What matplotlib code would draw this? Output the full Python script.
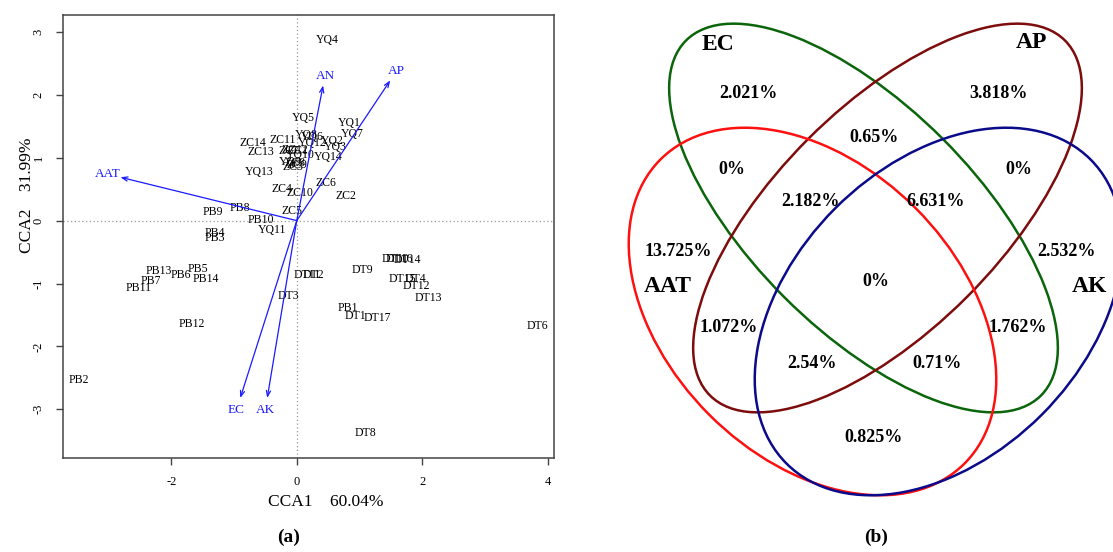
import matplotlib
matplotlib.use("Agg")
import matplotlib.pyplot as plt
from matplotlib.patches import Ellipse

plt.rcParams['font.family'] = ['Liberation Serif', 'DejaVu Serif']
plt.rcParams['axes.unicode_minus'] = False

# ---- (a) CCA biplot: site scores ----
sitios = ["YQ4", "YQ5", "YQ1", "YQ7", "YQ8", "YQ6", "ZC14", "ZC11", "YQ12", "YQ2",
          "YQ3", "ZC13", "ZC7", "ZC12", "ZC1", "YQ10", "YQ14", "YQ9", "ZC8", "ZC9",
          "ZC3", "YQ13", "ZC6", "ZC4", "ZC10", "ZC2", "ZC5", "PB8", "PB9", "PB10",
          "YQ11", "PB4", "PB3", "PB13", "PB5", "PB6", "PB14", "PB7", "PB11", "PB12",
          "PB2", "DT3", "DT11", "DT2", "DT9", "DT10", "DT16", "DT14", "DT15", "DT4",
          "DT12", "DT13", "PB1", "DT1", "DT17", "DT6", "DT8"]
cca1 = [0.49, 0.10, 0.83, 0.89, 0.16, 0.24, -0.70, -0.22, 0.25, 0.57,
        0.62, -0.57, -0.12, -0.03, 0.02, 0.06, 0.50, -0.10, -0.02, 0.00,
        -0.06, -0.60, 0.47, -0.23, 0.05, 0.78, -0.07, -0.90, -1.33, -0.57,
        -0.39, -1.30, -1.30, -2.20, -1.58, -1.85, -1.45, -2.33, -2.52, -1.68,
        -3.47, -0.14, 0.16, 0.26, 1.04, 1.58, 1.64, 1.77, 1.68, 1.89,
        1.91, 2.09, 0.82, 0.93, 1.28, 3.83, 1.09]
cca2 = [2.88, 1.64, 1.56, 1.37, 1.36, 1.33, 1.23, 1.28, 1.23, 1.26,
        1.17, 1.09, 1.10, 1.12, 1.10, 1.04, 1.01, 0.93, 0.91, 0.88,
        0.86, 0.78, 0.60, 0.50, 0.44, 0.39, 0.15, 0.20, 0.14, 0.01,
        -0.15, -0.20, -0.28, -0.80, -0.77, -0.86, -0.93, -0.96, -1.07, -1.64,
        -2.53, -1.20, -0.86, -0.86, -0.79, -0.61, -0.61, -0.63, -0.93, -0.93,
        -1.04, -1.23, -1.39, -1.52, -1.55, -1.68, -3.38]

# variables ambientales (flechas)
variables = ["AAT", "AN", "AP", "EC", "AK"]
flecha_x = [-2.81, 0.42, 1.49, -0.90, -0.47]
flecha_y = [0.69, 2.15, 2.23, -2.82, -2.82]

# ---- (b) Venn ----
conjuntos = ["EC", "AP", "AAT", "AK"]
porcentajes = ["2.021%", "3.818%", "0.65%", "0%", "0%", "2.182%", "6.631%",
               "13.725%", "2.532%", "0%", "1.072%", "1.762%", "2.54%",
               "0.71%", "0.825%"]
# posiciones de las regiones en pixeles
pos_regiones = [(748, 94), (999, 94), (874, 138), (732, 170), (1019, 170),
                (811, 201), (936, 201), (678, 251), (1067, 251), (876, 282),
                (729, 327), (1018, 327), (812, 363), (937, 363), (874, 438)]
pos_conjuntos = [(718, 45), (1031, 42), (668, 286), (1089, 286)]
# elipses: centro, semiejes, angulo, color
elipses = [((863.5, 218), 251, 112, 45, '#0b650b'),
           ((887.5, 218), 251, 112, -45, '#7d0c0c'),
           ((812.5, 311.5), 215, 146, 45, '#ff1010'),
           ((938.5, 311.5), 215, 146, -45, '#0a0a8a')]

W, H = 1113, 552
fig = plt.figure(figsize=(W / 100, H / 100), dpi=100)

ax = fig.add_axes([62.7 / W, (H - 457.7) / H, 491.3 / W, 442.7 / H])
ax.set_xlim(-3.73, 4.10)
ax.set_ylim(-3.77, 3.27)
ax.axhline(0, color='#999999', lw=0.9, ls=(0, (1, 2)), zorder=0)
ax.axvline(0, color='#999999', lw=0.9, ls=(0, (1, 2)), zorder=0)

for nom, x, y in zip(sitios, cca1, cca2):
    ax.text(x, y, nom, ha='center', va='center', fontsize=8.5, color='black')

for nom, x, y in zip(variables, flecha_x, flecha_y):
    ax.annotate("", xy=(x, y), xytext=(0, 0),
                arrowprops=dict(arrowstyle='->,head_length=0.4,head_width=0.15',
                                color='#1a1aff', lw=0.9, shrinkA=0, shrinkB=0))
    ax.text(x * 1.07, y * 1.07, nom, ha='center', va='center',
            fontsize=9.5, color='#1a1aff')

ax.set_xticks([-2, 0, 2, 4])
ax.set_yticks([-3, -2, -1, 0, 1, 2, 3])
ax.tick_params(direction='out', length=5, width=1, color='#444444',
               labelsize=9, pad=8)
for lab in ax.get_yticklabels():
    lab.set_rotation(90)
    lab.set_va('center')
for s in ax.spines.values():
    s.set_color('#444444')
    s.set_linewidth(1.1)

ax.set_xlabel("CCA1    60.04%", fontsize=12.5)
ax.xaxis.set_label_coords(0.536, -0.082)
ax.set_ylabel("CCA2    31.99%", fontsize=12.5)
ax.yaxis.set_label_coords(-0.056, 0.593)

fig.text(289 / W, 1 - 537 / H, "(a)", ha='center', va='center',
         fontsize=14, fontweight='bold')

# ---- Venn en coordenadas de pixel ----
av = fig.add_axes([0, 0, 1, 1], zorder=-1)
av.set_xlim(0, W)
av.set_ylim(H, 0)
av.axis('off')
for (c, a, b, ang, col) in elipses:
    av.add_patch(Ellipse(c, 2 * a, 2 * b, angle=ang, fill=False,
                         edgecolor=col, lw=1.8))
for txt, (x, y) in zip(porcentajes, pos_regiones):
    av.text(x, y, txt, ha='center', va='center', fontsize=13, fontweight='bold')
for txt, (x, y) in zip(conjuntos, pos_conjuntos):
    av.text(x, y, txt, ha='center', va='center', fontsize=17, fontweight='bold')
av.text(876, 537, "(b)", ha='center', va='center', fontsize=14, fontweight='bold')

fig.savefig("out.png", dpi=100)
